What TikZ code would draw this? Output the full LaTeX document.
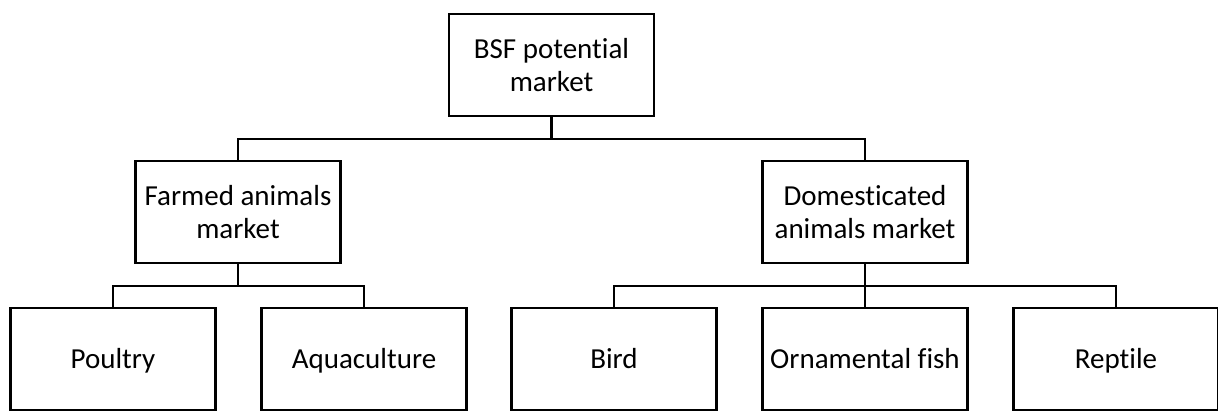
\documentclass[tikz,border=0pt]{standalone}
\usepackage{fontspec}
\setmainfont{Carlito}[Ligatures=NoCommon]
\usepackage{tikz}
\tikzset{>=latex}

\begin{document}
\begin{tikzpicture}[x=1pt, y=1pt,
    marketbox/.style={draw, line width=2.5pt, minimum width=205pt, minimum height=102pt,
      align=center, inner sep=2pt, font=\fontsize{29}{33}\selectfont},
    leafbox/.style={marketbox, text height=22pt, text depth=3pt},
    link/.style={line width=2.2pt}]
        \useasboundingbox (0, 0) rectangle (1218, 410);
        \node[marketbox] (bsf) at (551.5, 345) {BSF potential\\market};
        \node[marketbox] (farmed) at (238, 198) {Farmed animals\\market};
        \node[marketbox] (domestic) at (865, 198) {Domesticated\\animals market};
        \foreach \name/\x/\txt in {poultry/113/Poultry, aqua/364/Aquaculture, bird/614/Bird,
            fish/865/Ornamental fish, reptile/1116/Reptile} {
          \node[leafbox] (\name) at (\x, 51) {\txt};
        }
        \draw[link] (bsf.south) -- ++(0, -21.5) -| (farmed.north);
        \draw[link] (bsf.south) -- ++(0, -21.5) -| (domestic.north);
        \draw[link] (farmed.south) -- ++(0, -21.5) -| (poultry.north);
        \draw[link] (farmed.south) -- ++(0, -21.5) -| (aqua.north);
        \draw[link] (domestic.south) -- ++(0, -21.5) -| (bird.north);
        \draw[link] (domestic.south) -- (fish.north);
        \draw[link] (domestic.south) -- ++(0, -21.5) -| (reptile.north);
      \end{tikzpicture}
\end{document}
